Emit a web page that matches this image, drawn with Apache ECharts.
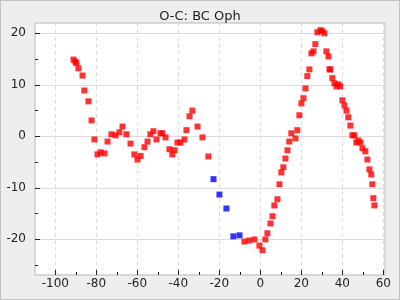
<!DOCTYPE html>
<html><head><meta charset="utf-8">
<script src="https://cdn.jsdelivr.net/npm/echarts@6/dist/echarts.min.js"></script>
<style>
html,body{margin:0;padding:0;background:#eeeeee;}
#c{width:398px;height:298px;border:1px solid #c4c4c4;}
</style></head>
<body><div id="c"></div>
<script>
var titleText = "O-C: BC Oph";
var xTickLabels = [-100, -80, -60, -40, -20, 0, 20, 40, 60];
var yTickLabels = [-20, -10, 0, 10, 20];

var redX = [-91.2,-90.3,-89.8,-88.8,-86.8,-85.9,-83.9,-82.4,-81.0,-79.5,-78.0,-76.1,-74.6,-72.7,-70.7,-68.8,-67.3,-65.4,-63.4,-61.5,-60.0,-58.5,-56.6,-55.1,-53.7,-52.2,-50.7,-48.8,-47.8,-46.3,-44.4,-43.0,-41.9,-40.5,-39.0,-37.1,-36.1,-34.6,-33.2,-30.7,-28.3,-25.4,
  -7.8,-5.4,-2.9,-0.5,1.0,2.4,3.4,4.9,5.9,6.8,8.3,9.3,10.2,11.2,12.2,13.2,14.1,15.1,17.1,18.0,19.0,20.0,21.0,22.0,22.9,23.9,24.9,25.9,26.8,27.8,29.3,30.2,31.2,32.2,33.2,33.7,34.1,35.1,36.1,37.1,38.0,39.0,40.0,41.0,42.0,42.9,43.9,44.9,45.9,46.8,47.8,48.8,49.8,51.2,52.2,53.2,54.1,54.6,55.1,55.6];
var redY = [14.9,14.5,14.2,13.2,11.8,8.9,6.8,3.1,-0.6,-3.5,-3.1,-3.3,-1.0,0.4,0.2,0.8,1.9,0.4,-1.4,-3.5,-4.5,-3.8,-2.1,-1.0,0.4,1.0,-0.6,0.6,0.6,-0.2,-2.5,-3.5,-2.7,-1.2,-1.2,-0.6,1.2,3.9,5.0,1.9,-0.2,-3.9,
  -20.4,-20.2,-20.0,-21.2,-22.1,-20.0,-18.8,-16.9,-15.5,-13.4,-12.2,-9.3,-7.0,-6.0,-4.3,-2.7,-1.0,0.6,-0.4,1.2,4.1,6.4,7.4,9.3,11.7,13.0,16.1,16.5,17.9,20.2,20.6,20.4,20.0,16.5,15.5,13.0,13.0,11.3,10.3,9.7,10.1,9.7,7.0,6.0,5.0,3.7,2.1,0.2,0.2,-1.2,-0.8,-1.2,-2.3,-2.9,-4.5,-6.4,-7.4,-9.3,-12.0,-13.4];
var blueX = [-22.9,-20.0,-16.6,-13.2,-10.2];
var blueY = [-8.3,-11.3,-14.0,-19.4,-19.2];

function pairs(xs, ys){ return xs.map(function(v,i){ return [v, ys[i]]; }); }

var gridColor = '#dcdcdc';
var font = 'DejaVu Sans';
var chart = echarts.init(document.getElementById('c'), null, {renderer:'canvas'});
chart.setOption({
  animation:false,
  backgroundColor:'#eeeeee',
  title:{text:titleText, left:'center', top:4, textStyle:{fontFamily:font, fontSize:13, fontWeight:'normal', color:'#222'}},
  grid:[
    {left:34, right:14, top:22, bottom:24, show:true, backgroundColor:'#ffffff', borderColor:'#b8b8b8', borderWidth:1},
    {left:54.3, right:15.7, top:22, bottom:24},
    {left:34, right:14, top:32.3, bottom:59.7},
    {left:34, right:14, top:32.3, bottom:33.95}
  ],
  xAxis:[
    {gridIndex:0, type:'value', min:-110, max:60.8, show:false},
    {gridIndex:1, type:'value', min:-100, max:60, interval:20,
      axisLine:{show:false},
      axisTick:{show:true, inside:true, length:5, lineStyle:{color:'#222'}},
      minorTick:{show:true, splitNumber:2, length:3, lineStyle:{color:'#222'}},
      axisLabel:{fontFamily:font, fontSize:12, color:'#222', margin:3},
      splitLine:{show:true, lineStyle:{color:gridColor, type:[4,3], width:1}}},
    {gridIndex:2, type:'value', show:false, min:0, max:1},
    {gridIndex:3, type:'value', show:false, min:0, max:1}
  ],
  yAxis:[
    {gridIndex:0, type:'value', min:-26.9, max:22, show:false},
    {gridIndex:1, type:'value', show:false, min:0, max:1},
    {gridIndex:2, type:'value', min:-20, max:20, interval:10,
      axisLine:{show:false},
      axisTick:{show:true, inside:true, length:5, lineStyle:{color:'#222'}},
      axisLabel:{fontFamily:font, fontSize:12, color:'#222', margin:9},
      splitLine:{show:true, lineStyle:{color:gridColor, type:'solid', width:1}}},
    {gridIndex:3, type:'value', min:-25, max:20, interval:5,
      axisLine:{show:false},
      axisTick:{show:true, inside:true, length:3, lineStyle:{color:'#222'}},
      axisLabel:{show:false},
      splitLine:{show:false}}
  ],
  series:[
    {type:'scatter', xAxisIndex:0, yAxisIndex:0, symbol:'rect', symbolSize:6, clip:false,
      itemStyle:{color:'#ff0000'}, data:pairs(redX, redY)},
    {type:'scatter', xAxisIndex:0, yAxisIndex:0, symbol:'rect', symbolSize:6, clip:false,
      itemStyle:{color:'#0000ff'}, data:pairs(blueX, blueY)}
  ]
});
</script></body></html>
